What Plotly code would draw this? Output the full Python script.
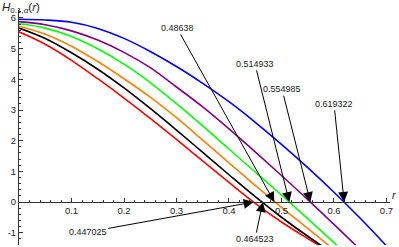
import plotly.graph_objects as go

# ---- data ----
r_grid = [0.0, 0.05, 0.10, 0.15, 0.20, 0.25, 0.30, 0.35, 0.40, 0.45, 0.50, 0.55, 0.60, 0.65, 0.70]

red_y = [5.55, 5.145, 4.62, 4.02, 3.39, 2.73, 2.04, 1.34, 0.64, -0.04, -0.65, -1.19, -1.70]
black_y = [5.67, 5.33, 4.865, 4.33, 3.72, 3.05, 2.345, 1.62, 0.89, 0.175, -0.495, -1.115, -1.70]
orange_y = [5.73, 5.47, 5.08, 4.58, 4.02, 3.42, 2.75, 2.02, 1.28, 0.54, -0.17, -0.86, -1.55]
green_y = [5.82, 5.67, 5.395, 4.995, 4.495, 3.895, 3.205, 2.48, 1.73, 0.98, 0.23, -0.54, -1.325, -2.12]
purple_y = [5.88, 5.78, 5.58, 5.28, 4.88, 4.38, 3.75, 3.1, 2.385, 1.635, 0.865, 0.08, -0.73, -1.55]
blue_y = [5.96, 5.935, 5.86, 5.66, 5.335, 4.91, 4.42, 3.87, 3.27, 2.6, 1.88, 1.12, 0.32, -0.53, -1.43]

roots = [0.447025, 0.464523, 0.48638, 0.514933, 0.554985, 0.619322]
root_labels = ["0.447025", "0.464523", "0.48638", "0.514933", "0.554985", "0.619322"]
label_x = [0.131, 0.4495, 0.301, 0.4495, 0.501, 0.600]
label_y = [-0.98, -1.21, 5.67, 4.50, 3.68, 3.20]

x_ticks = [0.1, 0.2, 0.3, 0.4, 0.5, 0.6, 0.7]
y_ticks = [-1, 0, 1, 2, 3, 4, 5, 6]

series = [
    (red_y, "#ff0000"),
    (black_y, "#000000"),
    (orange_y, "#ff8000"),
    (green_y, "#00ff00"),
    (purple_y, "#800080"),
    (blue_y, "#0000ff"),
]

fig = go.Figure()
for ys, col in series:
    fig.add_trace(go.Scatter(x=r_grid[:len(ys)], y=ys, mode="lines",
                             line=dict(color=col, width=1.6, shape="spline", smoothing=1.0),
                             showlegend=False, hoverinfo="skip"))

ymin, ymax = -1.40, 6.26
xmin, xmax = 0.0, 0.7067

txt_font = dict(family="Liberation Sans", size=9, color="#222222")
annotations = []
for r, t, lx, ly in zip(roots, root_labels, label_x, label_y):
    annotations.append(dict(x=r, y=0, xref="x", yref="y", ax=lx, ay=ly,
                            axref="x", ayref="y", text=t, showarrow=True,
                            arrowhead=2, arrowsize=2, arrowwidth=1, arrowcolor="#000000",
                            font=txt_font))

annotations.append(dict(x=0, y=1, xref="paper", yref="paper", xanchor="left", yanchor="top",
                        xshift=-19, yshift=11, showarrow=False,
                        text="<i>H</i><sub>0.1,<i>α</i></sub>(<i>r</i>)",
                        font=dict(family="Liberation Sans", size=11.5, color="#222222")))
annotations.append(dict(x=1, y=0, xref="paper", yref="y", xanchor="left", yanchor="bottom",
                        xshift=0, yshift=-1, showarrow=False, text="<i>r</i>",
                        font=dict(family="Liberation Sans", size=11, color="#222222")))

axis_col = "#333333"
tick_font = dict(family="Liberation Sans", size=9.5, color="#222222")
fig.update_layout(
    width=399, height=247,
    margin=dict(l=19, r=9, t=10, b=2, autoexpand=False),
    paper_bgcolor="white", plot_bgcolor="white",
    annotations=annotations,
    xaxis=dict(range=[xmin, xmax], anchor="free", position=(0 - ymin) / (ymax - ymin),
               automargin=False,
               showgrid=False, zeroline=False, showline=True, linecolor=axis_col, linewidth=1,
               tickmode="array", tickvals=x_ticks, ticktext=[str(v) for v in x_ticks],
               ticks="inside", ticklen=4, tickcolor=axis_col, tickwidth=1,
               minor=dict(ticks="inside", ticklen=2, tickmode="linear", tick0=0, dtick=0.02,
                          tickcolor=axis_col, showgrid=False),
               tickfont=tick_font),
    yaxis=dict(range=[ymin, ymax], automargin=False,
               showgrid=False, zeroline=False, showline=True,
               linecolor=axis_col, linewidth=1,
               tickmode="array", tickvals=y_ticks, ticktext=[str(v) for v in y_ticks],
               ticks="inside", ticklen=4, tickcolor=axis_col, tickwidth=1,
               minor=dict(ticks="inside", ticklen=2, tickmode="linear", tick0=0, dtick=0.2,
                          tickcolor=axis_col, showgrid=False),
               tickfont=tick_font),
)

fig.write_html("out.html", config={"displayModeBar": False},
               post_script="document.body.style.margin='0';document.body.style.padding='0';")
